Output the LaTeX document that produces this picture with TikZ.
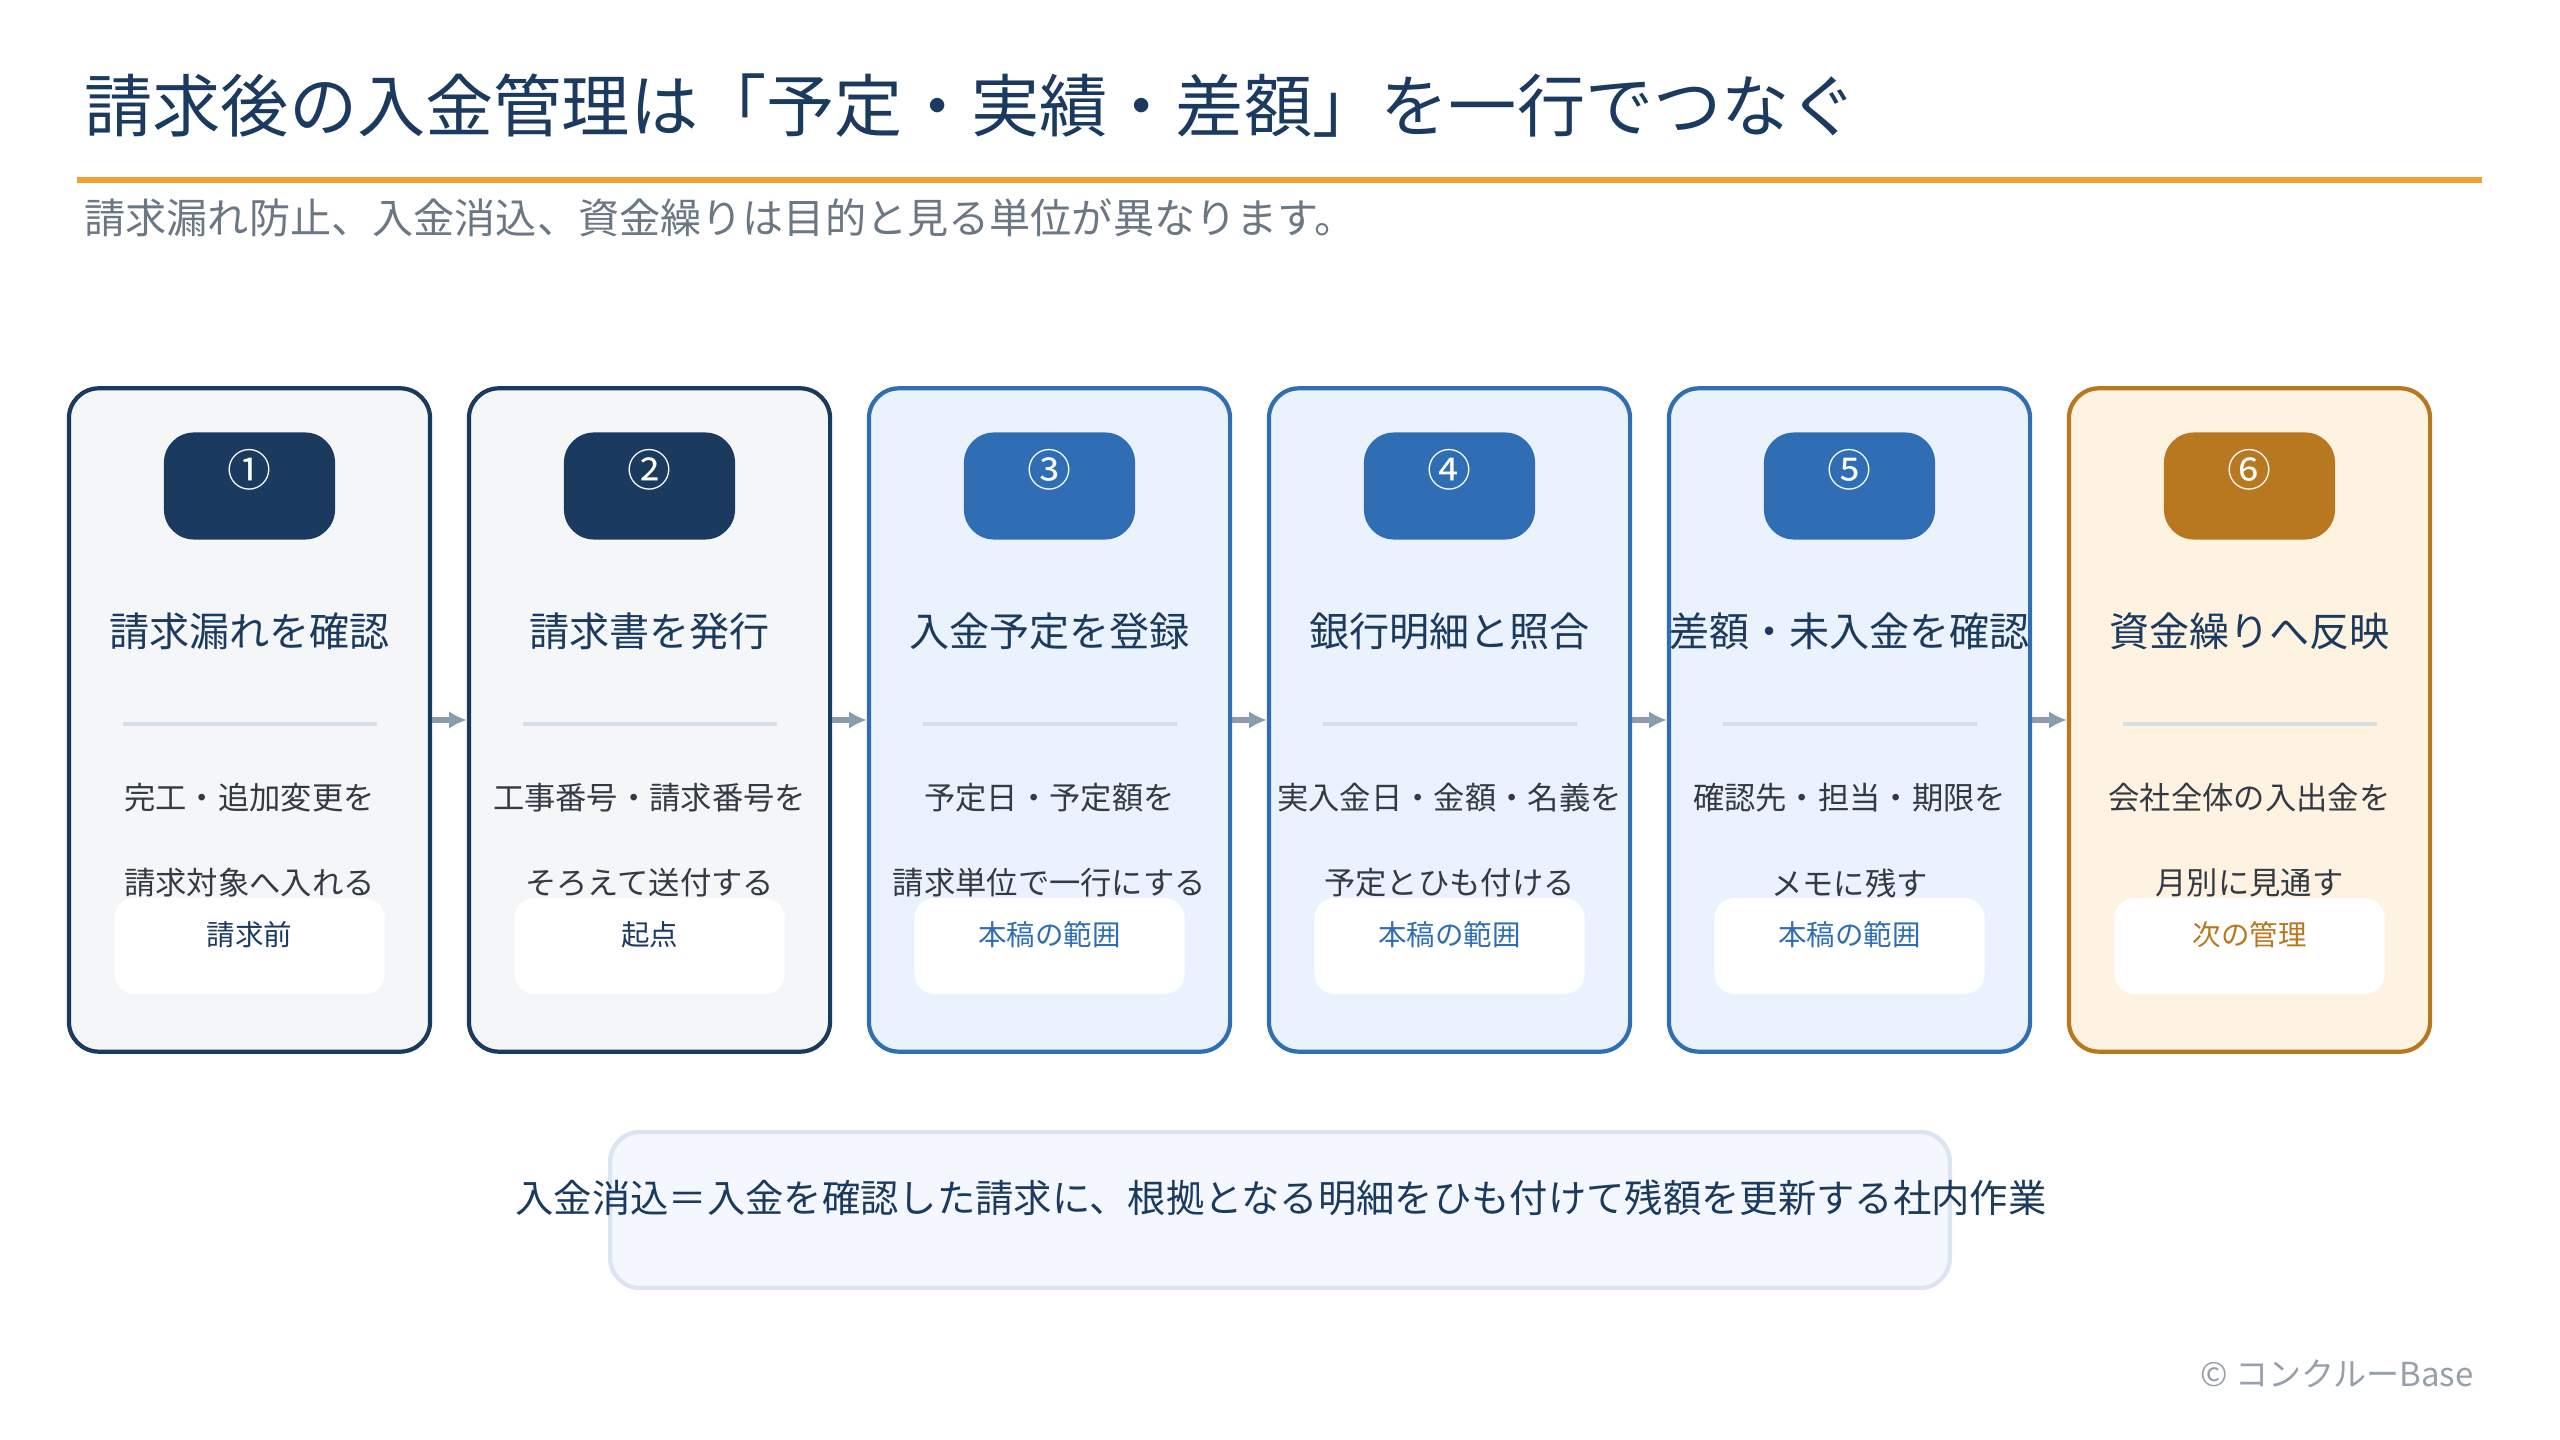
\documentclass[tikz,border=0pt]{standalone}
\usepackage{fontspec}
\setmainfont{Noto Sans CJK JP}
\usetikzlibrary{arrows.meta,positioning,calc}

\definecolor{navy}{HTML}{1B3A5F}
\definecolor{bluec}{HTML}{2F6EB5}
\definecolor{gold}{HTML}{B87820}
\definecolor{navyfill}{HTML}{F4F6F8}
\definecolor{bluefill}{HTML}{EAF2FD}
\definecolor{goldfill}{HTML}{FDF3E0}
\definecolor{bodygray}{HTML}{333A44}
\definecolor{subgray}{HTML}{6B7785}
\definecolor{arrowgray}{HTML}{8A9BB0}
\definecolor{rulegray}{HTML}{D6DEE8}
\definecolor{orangec}{HTML}{F0A030}

\tikzset{
  card/.style={draw=#1, line width=1.2pt, rounded corners=0.3cm,
    minimum width=3.61cm, minimum height=6.63cm, inner sep=0pt},
  badge/.style={fill=#1, rounded corners=0.3cm,
    minimum width=1.71cm, minimum height=1.07cm, inner sep=0pt},
  tag/.style={fill=white, rounded corners=0.2cm,
    minimum width=2.7cm, minimum height=0.96cm, inner sep=0pt},
  flow/.style={-{Latex[length=5pt,width=5pt]}, arrowgray, line width=1.5pt}
}

\begin{document}
\begin{tikzpicture}[x=0.01cm,y=-0.01cm]
  \useasboundingbox (0,0) rectangle (2560,1440);

  % heading
  \node[anchor=west, font=\fontsize{19.4}{23}\selectfont, text=navy] (head) at (72,106)
    {請求後の入金管理は「予定・実績・差額」を一行でつなぐ};
  \draw[orangec, line width=1.6pt] (77,180) -- (2482,180);
  \node[anchor=west, font=\fontsize{11.7}{14}\selectfont, text=subgray] (sub) at (72,218)
    {請求漏れ防止、入金消込、資金繰りは目的と見る単位が異なります。};

  % cards
  \foreach \i/\col/\fil/\num/\ttl/\la/\lb/\tg/\tgc in {
      1/navy/navyfill/①/請求漏れを確認/完工・追加変更を/請求対象へ入れる/請求前/navy,
      2/navy/navyfill/②/請求書を発行/工事番号・請求番号を/そろえて送付する/起点/navy,
      3/bluec/bluefill/③/入金予定を登録/予定日・予定額を/請求単位で一行にする/本稿の範囲/bluec,
      4/bluec/bluefill/④/銀行明細と照合/実入金日・金額・名義を/予定とひも付ける/本稿の範囲/bluec,
      5/bluec/bluefill/⑤/差額・未入金を確認/確認先・担当・期限を/メモに残す/本稿の範囲/bluec,
      6/gold/goldfill/⑥/資金繰りへ反映/会社全体の入出金を/月別に見通す/次の管理/gold} {
    \pgfmathsetmacro{\cx}{249.5+400*(\i-1)}
    \node[card=\col, fill=\fil] (card\i) at (\cx,720) {};
    \node[badge=\col] (badge\i) at (\cx,486) {};
    \node[text=white, font=\fontsize{12.5}{15}\selectfont] (num\i) at (\cx,470) {\num};
    \node[text=navy, font=\fontsize{11.4}{14}\selectfont] (title\i) at (\cx,631) {\ttl};
    \draw[rulegray, line width=1pt] (\cx-127,724) -- (\cx+127,724);
    \node[text=bodygray, font=\fontsize{8.9}{11}\selectfont] (linea\i) at (\cx,798) {\la};
    \node[tag] (tag\i) at (\cx,946) {};
    \node[text=bodygray, font=\fontsize{8.9}{11}\selectfont] (lineb\i) at (\cx,883) {\lb};
    \node[text=\tgc, font=\fontsize{8.1}{10}\selectfont] (tagt\i) at (\cx,935) {\tg};
  }

  % flow arrows
  \foreach \i [evaluate=\i as \j using int(\i+1)] in {1,...,5}
    \draw[flow] (card\i.east) -- (card\j.west);

  % definition box
  \node[draw=rulegray!70!bluec!40, fill=bluefill!50, line width=1.2pt, rounded corners=0.3cm,
    minimum width=13.39cm, minimum height=1.56cm] (defbox) at (1280,1210) {};
  \node[text=navy, font=\fontsize{10.9}{13}\selectfont] (deftext) at (1281,1198)
    {入金消込＝入金を確認した請求に、根拠となる明細をひも付けて残額を更新する社内作業};

  % footer
  \node[anchor=east, text=subgray!70, font=\fontsize{9.4}{11}\selectfont] (copy) at (2486,1374)
    {© コンクルーBase};
\end{tikzpicture}
\end{document}
